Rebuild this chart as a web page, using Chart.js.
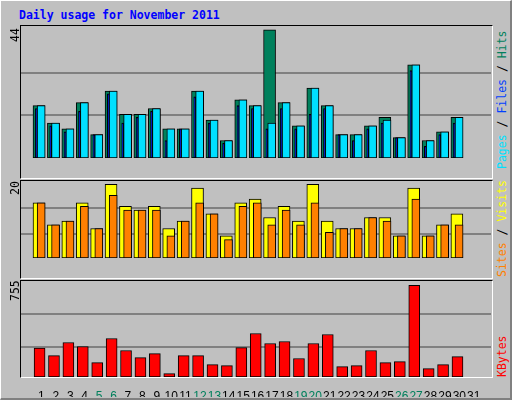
<!DOCTYPE html>
<html><head><meta charset="utf-8">
<script src="https://cdn.jsdelivr.net/npm/chart.js@4"></script>
<style>
body{margin:0;background:#fff}
#wrap{position:relative;width:512px;height:400px;background:#C0C0C0;box-sizing:border-box;border-top:1px solid #fff;border-left:1px solid #fff;border-right:2px solid #808080;border-bottom:2px solid #808080;overflow:hidden;font-family:"DejaVu Sans Mono",monospace}
.panel{position:absolute;left:19px;width:471px;background:#C0C0C0;border-top:1px solid #000;border-left:1px solid #000;border-right:1px solid #fff;border-bottom:1px solid #fff}
canvas{position:absolute}
.t{position:absolute;font-size:11.5px;white-space:nowrap;transform-origin:0 0;transform:rotate(-90deg)}
#title{position:absolute;left:18px;top:7px;color:#0000FF;font-weight:bold;font-size:11.5px}
</style></head><body>
<div id="wrap">
<div id="title">Daily usage for November 2011</div>
<div class="panel" style="top:24px;height:152px"></div>
<div class="panel" style="top:179px;height:97px"></div>
<div class="panel" style="top:279px;height:96px"></div>
<canvas id="c1" style="left:20px;top:25px;width:470px;height:152px"></canvas>
<canvas id="c2" style="left:20px;top:180px;width:470px;height:97px"></canvas>
<canvas id="c3" style="left:20px;top:280px;width:470px;height:116px"></canvas>
<div class="t" style="left:7px;top:41px">44</div>
<div class="t" style="left:7px;top:194px">20</div>
<div class="t" style="left:7px;top:300px">755</div>
<div class="t" style="left:494px;top:168px"><span style="color:#00E0FF">Pages</span> / <span style="color:#0040FF">Files</span> / <span style="color:#00805C">Hits</span></div>
<div class="t" style="left:494px;top:276px"><span style="color:#FF8000">Sites</span> / <span style="color:#FFFF00">Visits</span></div>
<div class="t" style="left:494px;top:376px"><span style="color:#FF0000">KBytes</span></div>
</div>
<script>
const days=[1,2,3,4,5,6,7,8,9,10,11,12,13,14,15,16,17,18,19,20,21,22,23,24,25,26,27,28,29,30,31];
const weekends=[5,6,12,13,19,20,26,27];
const hits=[18,12,10,19,8,23,15,15,17,10,10,23,13,6,20,18,44,19,11,24,18,8,8,11,14,7,32,6,9,14];
const files=[18,12,10,19,8,23,15,15,17,10,10,23,13,6,20,18,12,19,11,24,18,8,8,11,13,7,32,6,9,14];
const pages=[17,11,9,16,8,22,12,14,16,6,10,21,12,5,18,17,10,17,10,15,17,8,6,10,12,7,30,4,8,12];
const sites=[15,9,10,15,8,20,14,13,14,8,10,19,12,6,15,16,11,14,10,20,10,8,8,11,11,6,19,6,9,12];
const visits=[15,9,10,14,8,17,13,13,13,6,10,15,12,5,14,15,9,13,9,15,7,8,8,11,10,6,16,6,9,9];
const kbytes=[237,176,284,251,118,317,218,160,193,28,176,176,102,94,242,358,276,292,152,276,350,85,94,218,118,127,755,69,102,168];
const XMIN=0.107, XMAX=31.67;
function pts(arr,off){return arr.map((v,i)=>({x:days[i]+off,y:v}));}
function ds(arr,off,color,w,order){return {data:pts(arr,off),backgroundColor:color,borderColor:'#000',borderWidth:1,barThickness:w,grouped:false,borderSkipped:false,order:order};}
function make(id,datasets,ymax,grids,showX){
  return new Chart(document.getElementById(id),{type:'bar',data:{datasets},
   options:{animation:false,responsive:false,maintainAspectRatio:false,devicePixelRatio:1,
    layout:{padding:0},plugins:{legend:{display:false},tooltip:{enabled:false}},
    scales:{
     x:{type:'linear',min:XMIN,max:XMAX,display:showX,grid:{display:false},border:{display:false},
        afterBuildTicks:s=>{s.ticks=days.map(v=>({value:v}));},
        afterFit:s=>{s.height=20;},
        ticks:{padding:4,autoSkip:false,maxRotation:0,font:{family:'Liberation Sans',size:12},
          color:c=>weekends.includes(c.tick.value)?'#00805C':'#000'}},
     y:{min:0,max:ymax,display:true,border:{display:false},
        afterBuildTicks:s=>{s.ticks=grids.map(v=>({value:v}));},
        afterFit:s=>{s.width=0;},
        grid:{color:'#808080',lineWidth:2,drawTicks:false},ticks:{display:false,padding:0}}
    }}});
}
function sized(id,w,h){const c=document.getElementById(id);c.width=w;c.height=h;}
sized('c1',470,152);sized('c2',470,97);sized('c3',470,116);
make('c1',[ds(files,-0.02,'#00E0FF',8,1),ds(pages,-0.36,'#0000FF',2,2),ds(hits,-0.17,'#00805C',12,3)],45.3,[14.67,29.33],false);
make('c2',[ds(visits,-0.02,'#FF8000',8,1),ds(sites,-0.17,'#FFFF00',12,2)],20.9,[6.5,13.7],false);
make('c3',[ds(kbytes,-0.13,'#FF0000',11,1)],790,[243,515],true);
</script>
</body></html>
